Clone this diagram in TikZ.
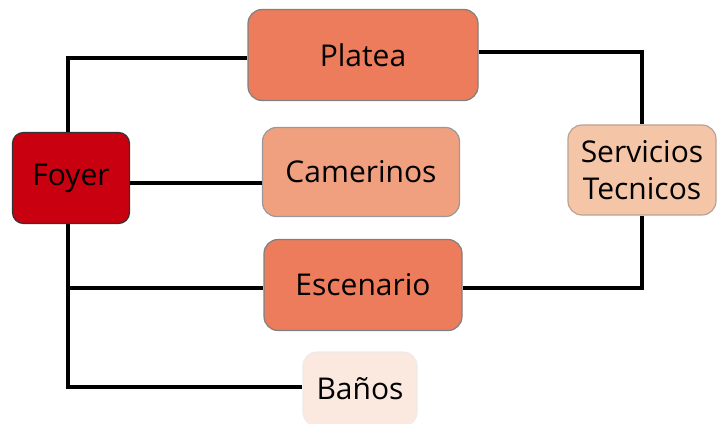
\documentclass[tikz,border=0pt]{standalone}
\usepackage{fontspec}
\setmainfont{Open Sans}
\usetikzlibrary{positioning}
\definecolor{foyerred}{HTML}{C8000F}
\definecolor{salmon}{HTML}{EC7C5B}
\definecolor{lightsalmon}{HTML}{F0A07E}
\definecolor{peach}{HTML}{F5C5A8}
\definecolor{blush}{HTML}{FBE9E0}

\begin{document}
\begin{tikzpicture}[x=1pt, y=-1pt,
    room/.style={draw=#1, rounded corners=14pt, line width=1.2pt,
                 font=\fontsize{30}{37}\selectfont, align=center,
                 inner sep=0pt},
    link/.style={line width=3.2pt, black}
  ]
    \useasboundingbox (0,0) rectangle (719,423);
    \clip (0,0) rectangle (719,423);

    % Rooms
    \node[room=black!80, fill=foyerred, rounded corners=11pt,
          minimum width=117pt, minimum height=91pt]      (foyer)     at (71,178)  {Foyer};
    \node[room=gray, fill=salmon,
          minimum width=230pt, minimum height=91pt]      (platea)    at (363,55)  {Platea};
    \node[room=gray!80, fill=lightsalmon,
          minimum width=197pt, minimum height=89pt]      (camerinos) at (361,172) {Camerinos};
    \node[room=gray, fill=salmon,
          minimum width=198pt, minimum height=91pt]      (escenario) at (363,285) {Escenario};
    \node[room=blush!70!gray!40, fill=blush,
          minimum width=114pt, minimum height=74pt]      (banos)     at (360,389) {Baños};
    \node[room=gray!50!peach, fill=peach,
          minimum width=148pt, minimum height=90pt]      (servicios) at (642,170) {Servicios\\Tecnicos};

    % Connections
    \draw[link] ([xshift=-3pt]foyer.north) |- ([yshift=-3pt]platea.west);
    \draw[link] ([yshift=3pt]platea.east) -| (servicios.north);
    \draw[link] (servicios.south) |- ([yshift=-3pt]escenario.east);
    \draw[link] ([yshift=-5pt]foyer.east) -- ([yshift=-5pt]foyer.east -| camerinos.west);
    \draw[link] ([xshift=-3pt]foyer.south) |- ([yshift=-3pt]escenario.west);
    \draw[link] ([xshift=-3pt]foyer.south) |- ([yshift=2pt]banos.west);
\end{tikzpicture}
\end{document}
